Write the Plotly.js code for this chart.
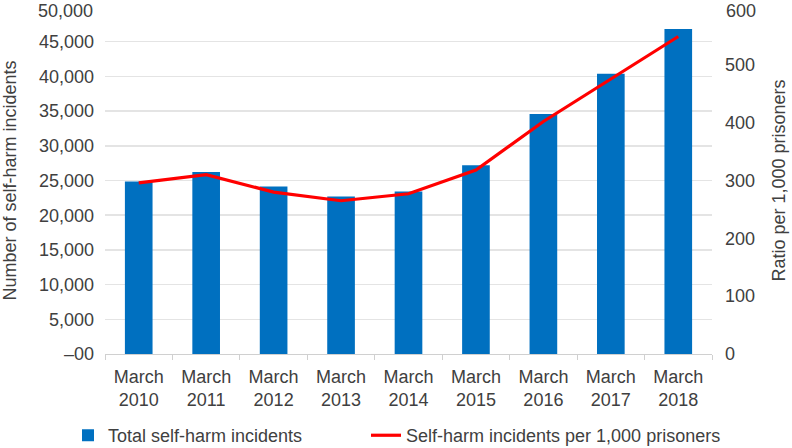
<!DOCTYPE html>
<html>
<head>
<meta charset="utf-8">
<script src="https://cdn.plot.ly/plotly-3.0.1.min.js"></script>
<style>
  html, body { margin: 0; padding: 0; background: #fff; }
  #chart { width: 792px; height: 448px; }
</style>
</head>
<body>
<div id="chart"></div>
<script>
// Data
const years = ['March<br>2010', 'March<br>2011', 'March<br>2012', 'March<br>2013', 'March<br>2014',
               'March<br>2015', 'March<br>2016', 'March<br>2017', 'March<br>2018'];
const incidents = [24870, 26220, 24150, 22700, 23400, 27200, 34600, 40390, 46830];
const ratePer1000 = [296, 310, 280, 265, 277, 318, 402, 475, 549];

const leftTicks = [0, 5000, 10000, 15000, 20000, 25000, 30000, 35000, 40000, 45000, 50000];
const leftTickText = ['\u201300', '5,000', '10,000', '15,000', '20,000', '25,000',
                      '30,000', '35,000', '40,000', '45,000', '50,000'];
const rightTicks = [0, 100, 200, 300, 400, 500, 600];

const font = "'Liberation Sans', Arial, sans-serif";
const textColor = '#404040';
const tickFont = {family: font, size: 18, color: textColor};

var barTrace = {
    x: years,
    y: incidents,
    type: 'bar',
    name: 'Total self-harm incidents',
    marker: {color: '#0070C0'},
    yaxis: 'y',
    legend: 'legend'
};

var lineTrace = {
    x: years,
    y: ratePer1000,
    type: 'scatter',
    mode: 'lines',
    name: 'Self-harm incidents per 1,000 prisoners',
    line: {color: '#FF0000', width: 3.2},
    yaxis: 'y2',
    legend: 'legend2'
};

// the top tick labels sit on the paper edge and plotly drops them, so put them back as annotations
// (nudged down a few px so they are not clipped)
const lastLeft = leftTicks.length - 1;
const lastRight = rightTicks.length - 1;
var topLabels = [
    {xref: 'paper', x: 0, xanchor: 'right', xshift: -10,
     yref: 'y', y: leftTicks[lastLeft], yanchor: 'middle', yshift: -4,
     text: leftTickText[lastLeft], showarrow: false, font: tickFont},
    {xref: 'paper', x: 1, xanchor: 'left', xshift: 12,
     yref: 'y2', y: rightTicks[lastRight], yanchor: 'middle', yshift: -4,
     text: String(rightTicks[lastRight]), showarrow: false, font: tickFont}
];

var layout = {
    width: 792,
    height: 448,
    margin: {l: 105, r: 80, t: 7, b: 94, autoexpand: false},
    paper_bgcolor: '#ffffff',
    plot_bgcolor: '#ffffff',
    font: {family: font, size: 18, color: textColor},
    bargap: 0.59,
    showlegend: true,
    legend: {
        orientation: 'h',
        x: -0.061, xanchor: 'left',
        y: -0.235, yanchor: 'middle',
        font: tickFont
    },
    legend2: {
        orientation: 'h',
        x: 0.430, xanchor: 'left',
        y: -0.235, yanchor: 'middle',
        font: tickFont
    },
    annotations: topLabels,
    xaxis: {
        type: 'category',
        showgrid: false,
        showline: true,
        linecolor: '#D0D0D0',
        linewidth: 1,
        ticks: 'outside',
        tickson: 'boundaries',
        tickcolor: '#D0D0D0',
        ticklen: 5,
        ticklabelstandoff: 6,
        tickfont: tickFont
    },
    yaxis: {
        title: {text: 'Number of self-harm incidents', font: tickFont, standoff: 18},
        range: [0, 50000],
        tickvals: leftTicks,
        ticktext: leftTickText,
        showgrid: true,
        gridcolor: '#E4E4E4',
        gridwidth: 1.5,
        zeroline: false,
        showline: false,
        ticks: '',
        ticklabelstandoff: 10,
        tickfont: tickFont
    },
    yaxis2: {
        title: {text: 'Ratio per 1,000 prisoners', font: tickFont, standoff: 18},
        overlaying: 'y',
        side: 'right',
        range: [0, 600],
        tickvals: rightTicks,
        showgrid: false,
        zeroline: false,
        showline: false,
        ticks: '',
        ticklabelstandoff: 12,
        tickfont: tickFont
    }
};

Plotly.newPlot('chart', [barTrace, lineTrace], layout, {displayModeBar: false, staticPlot: true});
</script>
</body>
</html>
